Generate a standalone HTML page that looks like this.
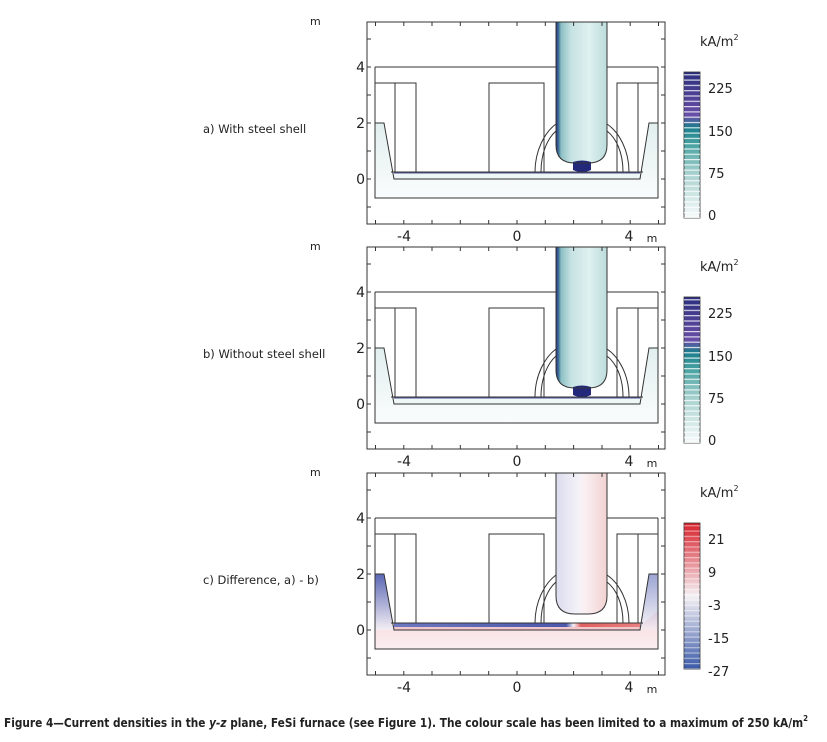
<!DOCTYPE html>
<html><head><meta charset="utf-8"><style>
html,body{margin:0;padding:0;background:#fff}
svg{display:block}
text{font-family:"DejaVu Sans","Liberation Sans",sans-serif;fill:#222}
</style></head><body>
<svg width="827" height="742" viewBox="0 0 827 742" xmlns="http://www.w3.org/2000/svg">
<defs>
<linearGradient id="cb1" x1="0" y1="1" x2="0" y2="0">
<stop offset="0" stop-color="#f8fbfb"/><stop offset="0.3" stop-color="#a9d2cf"/><stop offset="0.5" stop-color="#4aa3a3"/><stop offset="0.62" stop-color="#1a7f8c"/><stop offset="0.7" stop-color="#6a4fa8"/><stop offset="1" stop-color="#2b2f7e"/>
</linearGradient>
<linearGradient id="cb3" x1="0" y1="1" x2="0" y2="0">
<stop offset="0" stop-color="#3b5aa8"/><stop offset="0.5" stop-color="#f4f0f4"/><stop offset="1" stop-color="#d8202a"/>
</linearGradient>
<linearGradient id="el1" x1="0" y1="0" x2="1" y2="0">
<stop offset="0" stop-color="#2a2f80"/><stop offset="0.05" stop-color="#3a6f96"/><stop offset="0.1" stop-color="#8cc0c4"/><stop offset="0.3" stop-color="#c6e2e2"/><stop offset="0.65" stop-color="#dff0f0"/><stop offset="1" stop-color="#bcdcdc"/>
</linearGradient>
<linearGradient id="el3" x1="0" y1="0" x2="1" y2="0">
<stop offset="0" stop-color="#dcdcee"/><stop offset="0.45" stop-color="#f4f2f8"/><stop offset="0.55" stop-color="#faf0f2"/><stop offset="1" stop-color="#f2d2d2"/>
</linearGradient>
<linearGradient id="wall3" x1="0" y1="0" x2="0" y2="1">
<stop offset="0" stop-color="#5a68b4"/><stop offset="1" stop-color="#f4eef4"/>
</linearGradient>
<linearGradient id="wall1" x1="0" y1="0" x2="0" y2="1">
<stop offset="0" stop-color="#e2efef"/><stop offset="1" stop-color="#fafcfc"/>
</linearGradient>
<linearGradient id="bot3" x1="0" y1="0" x2="0" y2="1">
<stop offset="0" stop-color="#f6d8dc"/><stop offset="1" stop-color="#fbeef0"/>
</linearGradient>
<linearGradient id="strip3" x1="0" y1="0" x2="1" y2="0">
<stop offset="0" stop-color="#6c78c0"/><stop offset="0.7" stop-color="#4b58ac"/><stop offset="0.73" stop-color="#f4f0f4"/><stop offset="0.76" stop-color="#e06060"/><stop offset="1" stop-color="#e88080"/>
</linearGradient>
<pattern id="stripes" width="16" height="5.3" patternUnits="userSpaceOnUse">
<rect x="0" y="0" width="16" height="1.2" fill="#fff" opacity="0.8"/>
</pattern>
<g id="lines" fill="none" stroke="#333" stroke-width="1">
<rect x="367" y="22" width="298" height="202"/>
<path d="M375.5,22v4M403.8,22v4M432,22v4M460.3,22v4M488.7,22v4M517,22v4M545.3,22v4M573.6,22v4M602,22v4M630.2,22v4M658.5,22v4
M375.5,224v-4M403.8,224v-4M432,224v-4M460.3,224v-4M488.7,224v-4M517,224v-4M545.3,224v-4M573.6,224v-4M602,224v-4M630.2,224v-4M658.5,224v-4
M367,207h4M367,179h4M367,151h4M367,123h4M367,95h4M367,67h4M367,39h4
M665,207h-4M665,179h-4M665,151h-4M665,123h-4M665,95h-4M665,67h-4M665,39h-4"/>
<path d="M375,67H556M607,67H658M375,67V198H658V67"/>
<path d="M375,83H416V172M395,83V172M489,172V83H544V172M617,172V83H658M638,83V172"/>
<path d="M375,123H384L394,179H640L649,123H658M391,172H643"/>
<path d="M535,172C535,150 545,132 556,124M541,172C541,152 548,138 556,131M629,172C629,150 619,132 607,124M623,172C623,152 616,138 607,131"/>
<path d="M556,22V145Q556,163 575,163H588Q607,163 607,145V22"/>
</g>
</defs>

<!-- Panel a -->
<g>
<path d="M375,123H384L394,179H640L649,123H658V198H375Z" fill="url(#wall1)"/>
<rect x="394" y="172" width="246" height="7" fill="#eef6f6"/>
<rect x="394" y="171.5" width="246" height="2" fill="#2a2f80" opacity="0.8"/>
<path d="M556,22V145Q556,163 575,163H588Q607,163 607,145V22Z" fill="url(#el1)"/>
<path d="M573,162Q582,159 591,162V170Q582,174 573,170Z" fill="#23287a"/>
<use href="#lines"/>
<rect x="684" y="72" width="16" height="146" fill="url(#cb1)" stroke="#333" stroke-width="0.8"/>
<rect x="684" y="72" width="16" height="146" fill="url(#stripes)"/>
<text x="700" y="46" font-size="13">kA/m<tspan font-size="8" dy="-6">2</tspan></text>
<text x="708" y="93" font-size="13">225</text>
<text x="708" y="136" font-size="13">150</text>
<text x="708" y="178" font-size="13">75</text>
<text x="708" y="220" font-size="13">0</text>
<text x="203" y="133" font-size="11.5">a) With steel shell</text>
<text x="310" y="25" font-size="11">m</text>
<text x="365" y="72" font-size="14" text-anchor="end">4</text>
<text x="365" y="128" font-size="14" text-anchor="end">2</text>
<text x="365" y="184" font-size="14" text-anchor="end">0</text>
<text x="404" y="241" font-size="14" text-anchor="middle">-4</text>
<text x="517" y="241" font-size="14" text-anchor="middle">0</text>
<text x="629" y="241" font-size="14" text-anchor="middle">4</text>
<text x="652" y="242" font-size="11" text-anchor="middle">m</text>
</g>

<!-- Panel b -->
<g transform="translate(0,225)">
<path d="M375,123H384L394,179H640L649,123H658V198H375Z" fill="url(#wall1)"/>
<rect x="394" y="172" width="246" height="7" fill="#eef6f6"/>
<rect x="394" y="171.5" width="246" height="2" fill="#2a2f80" opacity="0.8"/>
<path d="M556,22V145Q556,163 575,163H588Q607,163 607,145V22Z" fill="url(#el1)"/>
<path d="M573,162Q582,159 591,162V170Q582,174 573,170Z" fill="#23287a"/>
<use href="#lines"/>
<rect x="684" y="72" width="16" height="146" fill="url(#cb1)" stroke="#333" stroke-width="0.8"/>
<rect x="684" y="72" width="16" height="146" fill="url(#stripes)"/>
<text x="700" y="46" font-size="13">kA/m<tspan font-size="8" dy="-6">2</tspan></text>
<text x="708" y="93" font-size="13">225</text>
<text x="708" y="136" font-size="13">150</text>
<text x="708" y="178" font-size="13">75</text>
<text x="708" y="220" font-size="13">0</text>
<text x="203" y="133" font-size="11.5">b) Without steel shell</text>
<text x="310" y="25" font-size="11">m</text>
<text x="365" y="72" font-size="14" text-anchor="end">4</text>
<text x="365" y="128" font-size="14" text-anchor="end">2</text>
<text x="365" y="184" font-size="14" text-anchor="end">0</text>
<text x="404" y="241" font-size="14" text-anchor="middle">-4</text>
<text x="517" y="241" font-size="14" text-anchor="middle">0</text>
<text x="629" y="241" font-size="14" text-anchor="middle">4</text>
<text x="652" y="242" font-size="11" text-anchor="middle">m</text>
</g>

<!-- Panel c -->
<g transform="translate(0,451)">
<path d="M375,160L391,172H643L658,160V198H375Z" fill="url(#bot3)"/>
<path d="M375,123H384L394,179H375Z" fill="url(#wall3)"/>
<path d="M658,123H649L640,179H658Z" fill="url(#wall3)" opacity="0.6"/>
<rect x="394" y="172" width="246" height="4" fill="url(#strip3)"/>
<rect x="394" y="176" width="246" height="3" fill="#f2c8cc"/>
<path d="M556,22V145Q556,163 575,163H588Q607,163 607,145V22Z" fill="url(#el3)"/>
<use href="#lines"/>
<rect x="684" y="72" width="16" height="146" fill="url(#cb3)" stroke="#333" stroke-width="0.8"/>
<rect x="684" y="72" width="16" height="146" fill="url(#stripes)" opacity="0.6"/>
<text x="700" y="46" font-size="13">kA/m<tspan font-size="8" dy="-6">2</tspan></text>
<text x="708" y="93" font-size="13">21</text>
<text x="708" y="126" font-size="13">9</text>
<text x="708" y="159" font-size="13">-3</text>
<text x="708" y="192" font-size="13">-15</text>
<text x="708" y="225" font-size="13">-27</text>
<text x="203" y="133" font-size="11.5">c) Difference, a) - b)</text>
<text x="310" y="25" font-size="11">m</text>
<text x="365" y="72" font-size="14" text-anchor="end">4</text>
<text x="365" y="128" font-size="14" text-anchor="end">2</text>
<text x="365" y="184" font-size="14" text-anchor="end">0</text>
<text x="404" y="241" font-size="14" text-anchor="middle">-4</text>
<text x="517" y="241" font-size="14" text-anchor="middle">0</text>
<text x="629" y="241" font-size="14" text-anchor="middle">4</text>
<text x="652" y="242" font-size="11" text-anchor="middle">m</text>
</g>

<text x="4" y="727" font-size="12" font-weight="bold" font-family="Liberation Sans Narrow, Liberation Sans, sans-serif" textLength="804" lengthAdjust="spacingAndGlyphs">Figure 4—Current densities in the <tspan font-style="italic">y-z</tspan> plane, FeSi furnace (see Figure 1). The colour scale has been limited to a maximum of 250 kA/m<tspan font-size="8" dy="-6">2</tspan></text>
</svg>
</body></html>
